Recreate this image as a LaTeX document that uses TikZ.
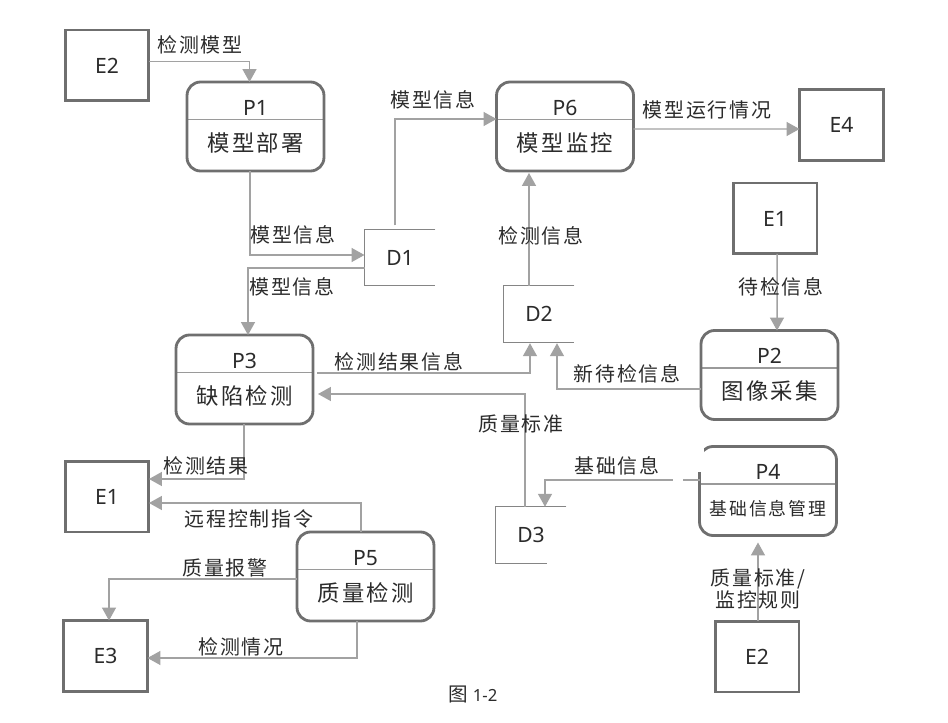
\documentclass[tikz,border=0pt]{standalone}
\usepackage{fontspec}
\usetikzlibrary{arrows.meta}
\usetikzlibrary{calc}
\setmainfont{Noto Sans}
\newfontfamily\cjk[LetterSpace=10,Scale=1.06]{Noto Sans CJK SC}
\definecolor{flowgray}{HTML}{A2A2A2}
\definecolor{boxgray}{HTML}{6F6F6F}
\definecolor{inkgray}{HTML}{2B2B2B}
\tikzset{
  entity/.style={draw=boxgray, line width=1.7pt, minimum width=1.68cm, minimum height=1.42cm,
    inner sep=0pt, outer sep=0pt, text=inkgray, font=\fontsize{12}{14}\selectfont},
  process/.style={draw=boxgray, line width=1.6pt, rounded corners=0.27cm, minimum width=2.74cm,
    minimum height=1.78cm, inner sep=0pt, outer sep=0pt, align=center, text=inkgray,
    font=\fontsize{12}{20.5}\selectfont,
    path picture={\draw[boxgray!70, line width=0.6pt]
      ($(path picture bounding box.north west)+(0,37.5)$) -- ++(140,0);}},
  store/.style={minimum width=1.42cm, minimum height=1.13cm, inner sep=0pt, outer sep=0pt,
    text=inkgray, font=\fontsize{12}{14}\selectfont},
  storeline/.style={draw=boxgray!85, line width=0.7pt},
  flow/.style={draw=flowgray, line width=0.85pt,
    -{Triangle[length=0.26cm,width=0.28cm,fill=flowgray]}},
  flowlabel/.style={inner sep=0pt, text=inkgray, align=center,
    font=\fontsize{10.7}{10.8}\selectfont\cjk},
}
\begin{document}
\begin{tikzpicture}[x=0.02cm, y=-0.02cm]
  \fill[white] (0,0) rectangle (948,723);
  % outside parties
  \node[entity] (E2top) at (107,65.5) {E2};
  \node[entity] (E1left) at (107,496.5) {E1};
  \node[entity] (E3) at (105.5,656) {E3};
  \node[entity] (E4) at (841.5,125) {E4};
  \node[entity] (E1right) at (775,218.5) {E1};
  \node[entity] (E2low) at (757,656.5) {E2};
  % processes
  \node[process] (P1) at (255.5,126.5) {P1\\{\cjk 模型部署}};
  \node[process] (P6) at (565,126.5) {P6\\{\cjk 模型监控}};
  \node[process] (P3) at (244.5,379.5) {P3\\{\cjk 缺陷检测}};
  \node[process] (P2) at (769.5,375) {P2\\{\cjk 图像采集}};
  \node[process] (P4) at (768,491) {P4\\{\fontsize{9.6}{20.5}\selectfont\cjk 基础信息管理}};
  \node[process] (P5) at (365.5,576.5) {P5\\{\cjk 质量检测}};
  % data stores
  \node[store] (D1) at (400,257.5) {D1};
  \node[store] (D2) at (539,314) {D2};
  \node[store] (D3) at (531,535) {D3};
  \draw[storeline] (D1.north east) -- (D1.north west) -- (D1.south west) -- (D1.south east);
  \draw[storeline] (D2.north east) -- (D2.north west) -- (D2.south west) -- (D2.south east);
  \draw[storeline] (D3.north east) -- (D3.north west) -- (D3.south west) -- ($(D3.south east)+(-19,0)$);
  % flows
  \draw[flow] ($(E2top.east)+(0,-4)$) -| ($(P1.north)+(-6,0)$);
  \draw[flow] ($(P1.south)+(-5.5,0)$) |- ($(D1.west)+(0,-2.5)$);
  \draw[flow] ($(D1.west)+(0,10.5)$) -| ($(P3.north)+(3.5,0)$);
  \draw[flow] ($(D1.north)+(-5,-4)$) |- ($(P6.west)+(0,-7.5)$);
  \draw[flow] ($(P6.east)+(0,2.5)$) -- ($(E4.west)+(0,4)$);
  \draw[flow] ($(D2.north)+(-10,0)$) -- ($(P6.south)+(-36,2)$);
  \draw[flow] ($(E1right.south)+(2,0)$) -- ($(P2.north)+(7.5,0)$);
  \draw[flow] ($(P3.east)+(4,-6.5)$) -| ($(D2.south)+(-9,1)$);
  \draw[flow] ($(P2.west)+(0,14)$) -| ($(D2.south)+(18,1)$);
  \draw[flow] ($(D3.north)+(-6,0)$) |- ($(P3.east)+(5,14.5)$);
  \draw[flow] ($(P4.west)+(0,-11)$) -| ($(D3.north)+(14,0)$);
  \draw[flow] ($(E2low.north)+(1,0)$) -- ($(P4.south)+(-10,7)$);
  \draw[flow] ($(P3.south)+(-0.5,0)$) |- ($(E1left.east)+(0,-17.5)$);
  \draw[flow] ($(P5.north)+(-4.5,0)$) |- ($(E1left.east)+(0,6.5)$);
  \draw[flow] ($(P5.west)+(0,2.5)$) -| ($(E3.north)+(3.5,0)$);
  \draw[flow] ($(P5.south)+(-8.5,0)$) |- ($(E3.east)+(0,2)$);
  % rubbed out in the scan
  \fill[white] (692,443) rectangle (704,472);
  \fill[white] (673,477) rectangle (683,483);
  % flow labels
  \node[flowlabel] (lbA) at (200,45) {检测模型};
  \node[flowlabel] (lbB) at (433,100) {模型信息};
  \node[flowlabel] (lbC) at (293,235) {模型信息};
  \node[flowlabel] (lbD) at (292,287) {模型信息};
  \node[flowlabel] (lbE) at (541,236) {检测信息};
  \node[flowlabel] (lbF) at (707,110) {模型运行情况};
  \node[flowlabel] (lbG) at (781,287) {待检信息};
  \node[flowlabel] (lbH) at (399,362) {检测结果信息};
  \node[flowlabel] (lbI) at (627,374) {新待检信息};
  \node[flowlabel] (lbJ) at (521,424) {质量标准};
  \node[flowlabel] (lbK) at (617,466) {基础信息};
  \node[flowlabel] (lbL) at (206,466) {检测结果};
  \node[flowlabel] (lbM) at (249,519) {远程控制指令};
  \node[flowlabel] (lbN) at (225,568) {质量报警};
  \node[flowlabel] (lbO) at (241,647) {检测情况};
  \node[flowlabel] (lbP) at (758,588.5) {质量标准/\\监控规则};
  \node[text=inkgray, inner sep=0pt] (caption) at (473,694) {{\fontsize{10.5}{12}\selectfont\cjk 图} {\fontsize{9.5}{12}\selectfont 1-2}};
\end{tikzpicture}
\end{document}
